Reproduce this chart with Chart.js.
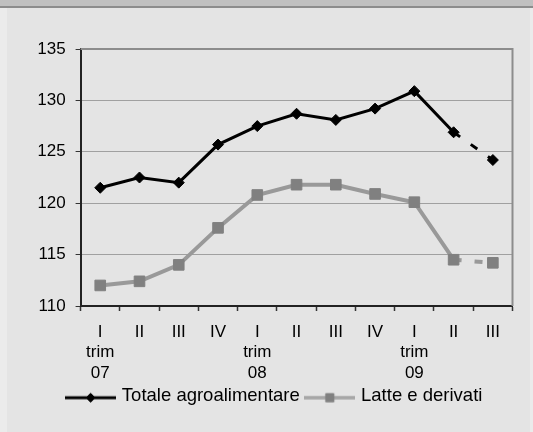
<!DOCTYPE html>
<html>
<head>
<meta charset="utf-8">
<script src="https://cdn.jsdelivr.net/npm/chart.js@4/dist/chart.umd.min.js"></script>
<style>
  html, body { margin: 0; padding: 0; width: 533px; height: 432px; overflow: hidden; background: #ebebeb; }
  #barra { position: absolute; left: 0; top: 0; width: 533px; height: 6px; background: #c0c0c0; border-bottom: 2px solid #8c8c8c; }
  #pannello { position: absolute; left: 7px; top: 8px; width: 523px; height: 424px; background: #e4e4e4; }
</style>
</head>
<body>
<div id="barra"></div>
<div id="pannello"><canvas id="grafico" width="523" height="424"></canvas></div>
<script>
// dati
const trimestri = [['I', 'trim', '07'], 'II', 'III', 'IV', ['I', 'trim', '08'], 'II', 'III', 'IV', ['I', 'trim', '09'], 'II', 'III'];
const totaleAgroalimentare = [121.5, 122.5, 122.0, 125.7, 127.5, 128.7, 128.1, 129.2, 130.9, 126.9, 124.2];
const latteDerivati = [112.0, 112.4, 114.0, 117.6, 120.8, 121.8, 121.8, 120.9, 120.1, 114.5, 114.2];
const asseYMin = 110;
const asseYMax = 135;
const asseYPasso = 5;

const FONT = 'Liberation Sans, Arial, sans-serif';
Chart.defaults.font.family = FONT;
Chart.defaults.color = '#000';

// icona della legenda: linea con marcatore al centro
const iconaLegenda = (coloreLinea, spessore, stile, colorePunto, raggio) => {
  const c = document.createElement('canvas');
  c.width = 51;
  c.height = 18;
  const ctx = c.getContext('2d');
  ctx.strokeStyle = coloreLinea;
  ctx.lineWidth = spessore;
  ctx.beginPath();
  ctx.moveTo(0, 11);
  ctx.lineTo(51, 11);
  ctx.stroke();
  ctx.fillStyle = colorePunto;
  ctx.strokeStyle = colorePunto;
  ctx.lineWidth = 1;
  Chart.helpers.drawPoint(ctx, { pointStyle: stile, radius: raggio, borderWidth: 1 }, 25.5, 11);
  return c;
};

const ultimoTratto = (ctx) => ctx.p0DataIndex === trimestri.length - 2 ? [8, 13] : undefined;

// cornice grigia sopra e a destra dell'area del grafico
const cornice = {
  id: 'cornice',
  beforeDatasetsDraw(chart) {
    const { ctx, chartArea: a } = chart;
    ctx.save();
    ctx.strokeStyle = '#8c8c8c';
    ctx.lineWidth = 2;
    ctx.beginPath();
    ctx.moveTo(a.left, a.top);
    ctx.lineTo(a.right, a.top);
    ctx.lineTo(a.right, a.bottom);
    ctx.stroke();
    ctx.restore();
  }
};

const datasets = [
  {
    label: 'Totale agroalimentare',
    data: totaleAgroalimentare,
    borderColor: '#000',
    backgroundColor: '#000',
    borderWidth: 3,
    pointStyle: 'rectRot',
    pointRadius: 5.5,
    pointBorderWidth: 1,
    pointHoverRadius: 5.5,
    tension: 0,
    segment: { borderDash: ultimoTratto },
    icona: iconaLegenda('#000', 3, 'rectRot', '#000', 4.5)
  },
  {
    label: 'Latte e derivati',
    data: latteDerivati,
    borderColor: '#999999',
    backgroundColor: '#808080',
    pointBorderColor: '#808080',
    borderWidth: 4,
    pointStyle: 'rect',
    pointRadius: 7.5,
    pointBorderWidth: 1,
    pointHoverRadius: 7.5,
    tension: 0,
    segment: { borderDash: ultimoTratto },
    icona: iconaLegenda('#a6a6a6', 3.5, 'rect', '#808080', 5.8)
  }
];

new Chart(document.getElementById('grafico'), {
  type: 'line',
  data: { labels: trimestri, datasets },
  plugins: [cornice],
  options: {
    responsive: false,
    animation: false,
    layout: { padding: { left: 31.5, right: 17.5, top: 41, bottom: 17 } },
    plugins: {
      tooltip: { enabled: false },
      legend: {
        position: 'bottom',
        labels: {
          usePointStyle: true,
          pointStyleWidth: 44,
          padding: 8,
          font: { size: 18.5 },
          generateLabels: (chart) => chart.data.datasets.map((d, i) => ({
            text: d.label,
            pointStyle: d.icona,
            fillStyle: d.borderColor,
            strokeStyle: d.borderColor,
            lineWidth: 0,
            hidden: false,
            datasetIndex: i
          }))
        }
      }
    },
    scales: {
      x: {
        offset: true,
        afterFit: (s) => {
          s.height = 72.5;
          // le etichette su tre righe escono dal riquadro dell'asse: niente ritaglio
          s._computeLabelArea = () => undefined;
        },
        grid: { offset: true, drawOnChartArea: false, tickLength: 5, tickColor: '#333', tickWidth: 1.5 },
        border: { color: '#222', width: 2 },
        ticks: { autoSkip: false, maxRotation: 0, padding: 11, font: { size: 17 } }
      },
      y: {
        min: asseYMin,
        max: asseYMax,
        afterFit: (s) => { s.width = 42.1; },
        grid: { color: '#a0a0a0', lineWidth: 1, tickLength: 5, tickColor: '#333' },
        border: { color: '#222', width: 2 },
        ticks: { stepSize: asseYPasso, padding: 10, font: { size: 17 } }
      }
    }
  }
});
</script>
</body>
</html>
